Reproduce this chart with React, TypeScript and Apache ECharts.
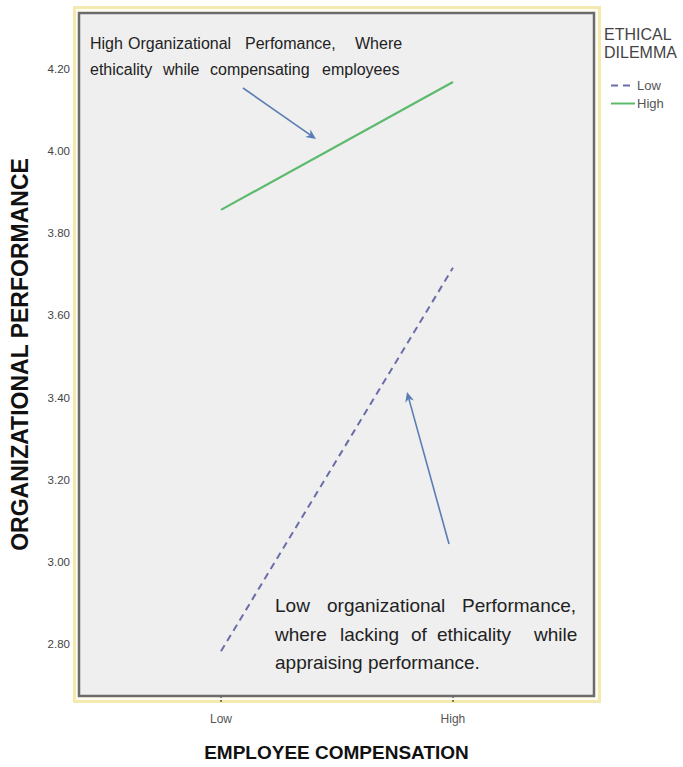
import React, { useEffect, useRef } from 'react';
import * as echarts from 'echarts';

const compensation = ['Low', 'High'];
const ethicalLow = [2.783, 3.716];
const ethicalHigh = [3.857, 4.168];
const yTickValues = [2.8, 3.0, 3.2, 3.4, 3.6, 3.8, 4.0, 4.2];
const legendTitle = 'ETHICAL\nDILEMMA';
const seriesNames = ['Low', 'High'];
const noteTopLines = [
  ['High', 'Organizational', 'Perfomance,', 'Where'],
  ['ethicality', 'while', 'compensating', 'employees'],
];
const noteBottomLines = [
  ['Low', 'organizational', 'Performance,'],
  ['where', 'lacking', 'of', 'ethicality', 'while'],
  ['appraising performance.'],
];

const FONT = '"Liberation Sans", Arial, sans-serif';

function arrow(x1: number, y1: number, x2: number, y2: number, color: string) {
  const dx = x2 - x1;
  const dy = y2 - y1;
  const len = Math.sqrt(dx * dx + dy * dy);
  const ux = dx / len;
  const uy = dy / len;
  const px = -uy;
  const py = ux;
  const hl = 10;
  const hw = 4.5;
  const bx = x2 - ux * hl;
  const by = y2 - uy * hl;
  return [
    {
      type: 'line',
      shape: { x1, y1, x2: x2 - ux * 4, y2: y2 - uy * 4 },
      style: { stroke: color, lineWidth: 1.6 },
      z: 20,
    },
    {
      type: 'polygon',
      shape: {
        points: [
          [x2, y2],
          [bx + px * hw, by + py * hw],
          [bx + ux * 3, by + uy * 3],
          [bx - px * hw, by - py * hw],
        ],
      },
      style: { fill: color },
      z: 20,
    },
  ];
}

export default function App() {
  const ref = useRef<HTMLDivElement>(null);
  useEffect(() => {
    const chart = echarts.init(ref.current!, null, { renderer: 'svg' });

    const topX = [
      [90, 128, 245, 355],
      [90, 163, 210, 322],
    ];
    const topY = [43, 69];
    const botX = [
      [275, 327, 462],
      [275, 340, 411, 437, 534],
      [275],
    ];
    const botY = [605, 634, 662];

    const words: any[] = [];
    noteTopLines.forEach((line, i) =>
      line.forEach((w, j) =>
        words.push({
          type: 'text',
          x: topX[i][j],
          y: topY[i],
          z: 20,
          style: {
            text: w,
            fontFamily: FONT,
            fontSize: 16,
            fill: '#222',
            verticalAlign: 'middle',
            align: 'left',
          },
        })
      )
    );
    noteBottomLines.forEach((line, i) =>
      line.forEach((w, j) =>
        words.push({
          type: 'text',
          x: botX[i][j],
          y: botY[i],
          z: 20,
          style: {
            text: w,
            fontFamily: FONT,
            fontSize: 19,
            fill: '#222',
            verticalAlign: 'middle',
            align: 'left',
          },
        })
      )
    );

    const arrowColor = '#5a7db5';

    chart.setOption({
      animation: false,
      backgroundColor: '#ffffff',
      grid: {
        left: 79,
        right: 89,
        top: 13,
        bottom: 70,
        show: true,
        backgroundColor: '#efefef',
        borderColor: '#6b6b6b',
        borderWidth: 2.5,
        z: 1,
      },
      legend: {
        data: seriesNames,
        orient: 'vertical',
        left: 610,
        top: 79,
        itemWidth: 24,
        itemHeight: 12,
        itemGap: 5,
        padding: 0,
        itemStyle: { opacity: 0 },
        textStyle: { fontFamily: FONT, fontSize: 13, color: '#555', padding: [0, 0, 0, -3] },
      },
      xAxis: {
        type: 'value',
        min: -0.612,
        max: 1.608,
        name: 'EMPLOYEE COMPENSATION',
        nameLocation: 'middle',
        nameGap: 47,
        nameTextStyle: { fontFamily: FONT, fontWeight: 'bold', fontSize: 19, color: '#111' },
        axisLine: { show: false },
        splitLine: { show: false },
        axisTick: {
          show: true,
          length: 8,
          customValues: [0, 1],
          lineStyle: { color: '#555', type: [2, 2], width: 1.5 },
        },
        axisLabel: {
          customValues: [0, 1],
          margin: 17,
          fontFamily: FONT,
          fontSize: 12,
          color: '#555',
          formatter: (v: number) => compensation[Math.round(v)] ?? '',
        },
      },
      yAxis: {
        type: 'value',
        min: 2.674,
        max: 4.336,
        name: 'ORGANIZATIONAL PERFORMANCE',
        nameLocation: 'middle',
        nameGap: 48,
        nameTextStyle: { fontFamily: FONT, fontWeight: 'bold', fontSize: 23, color: '#111' },
        axisLine: { show: false },
        splitLine: { show: false },
        axisTick: {
          show: true,
          length: 6,
          customValues: yTickValues,
          lineStyle: { color: '#555', type: [2, 2], width: 1.5 },
        },
        axisLabel: {
          customValues: yTickValues,
          margin: 9,
          fontFamily: FONT,
          fontSize: 11.5,
          color: '#444',
          formatter: (v: number) => v.toFixed(2),
        },
      },
      series: [
        {
          name: seriesNames[0],
          type: 'line',
          symbol: 'none',
          z: 10,
          data: ethicalLow.map((v, i) => [i, v]),
          lineStyle: { color: '#6a6ea8', width: 2, type: [7, 5] },
          itemStyle: { color: '#6a6ea8' },
        },
        {
          name: seriesNames[1],
          type: 'line',
          symbol: 'none',
          z: 10,
          data: ethicalHigh.map((v, i) => [i, v]),
          lineStyle: { color: '#5cba6c', width: 2.2 },
          itemStyle: { color: '#5cba6c' },
        },
      ],
      graphic: [
        {
          type: 'rect',
          z: -10,
          silent: true,
          shape: { x: 74.5, y: 7.5, width: 525, height: 694 },
          style: { fill: '#fffdf2', stroke: '#f4eab0', lineWidth: 3 },
        },
        {
          type: 'text',
          x: 604,
          y: 25,
          z: 20,
          style: {
            text: legendTitle,
            fontFamily: FONT,
            fontSize: 16,
            lineHeight: 18,
            fill: '#444',
            align: 'left',
            verticalAlign: 'top',
          },
        },
        ...arrow(243, 88, 316, 139, arrowColor),
        ...arrow(449, 544, 407, 392, arrowColor),
        ...words,
      ],
    });
    return () => chart.dispose();
  }, []);
  return (
    <div
      ref={ref}
      style={{ position: 'absolute', left: 0, top: 0, width: 683, height: 767 }}
    />
  );
}
